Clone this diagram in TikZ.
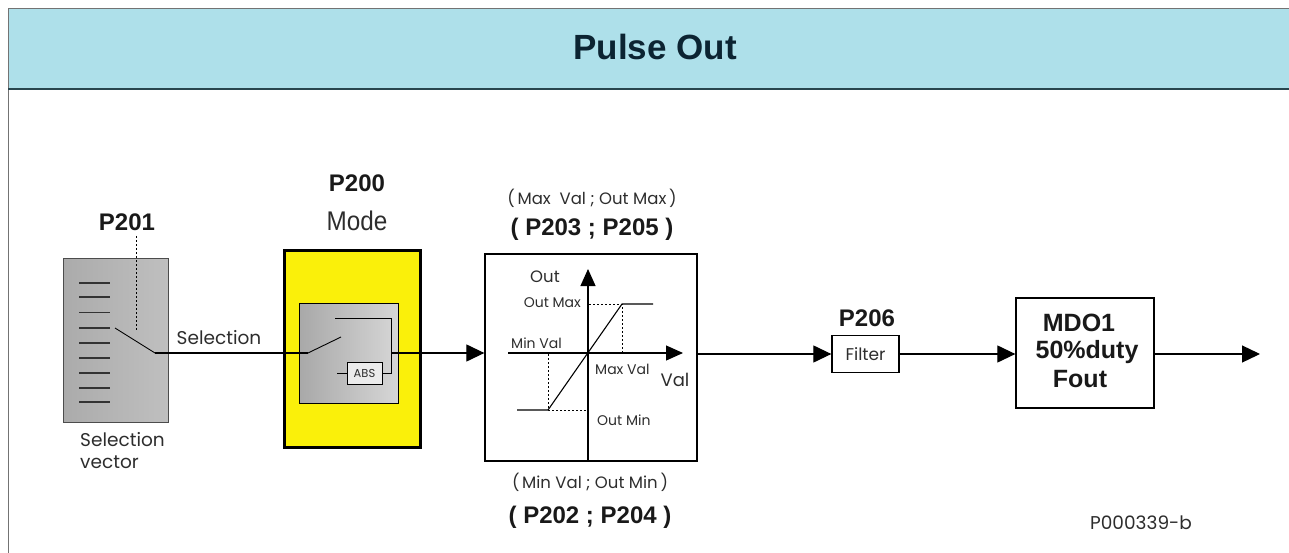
\documentclass[tikz,border=0pt]{standalone}
\usepackage{fontspec}
\setmainfont{Liberation Sans}
\newfontfamily\geo{Poppins}
\usetikzlibrary{arrows.meta}
\definecolor{hdrfill}{RGB}{174,224,234}
\definecolor{hdrline}{RGB}{40,70,78}
\definecolor{titlecol}{RGB}{12,36,50}
\definecolor{modeyellow}{RGB}{250,240,10}
\definecolor{txtgray}{RGB}{45,45,45}
\tikzset{
  sig/.style={line width=1.2pt, draw=black},
  arr/.style={sig, -{Triangle[length=18pt,width=17pt]}},
  axarr/.style={line width=1.1pt, -{Triangle[length=17pt,width=15pt]}},
  thin line/.style={line width=0.9pt},
  dotline/.style={line width=0.9pt, dash pattern=on 2pt off 2pt},
  boldlbl/.style={font=\bfseries\fontsize{24}{28}\selectfont, text=black!90, inner sep=0pt},
  geolbl/.style={font=\geo\fontsize{18.5}{22}\selectfont, text=txtgray, inner sep=0pt},
  smalllbl/.style={font=\geo\fontsize{14}{16}\selectfont, text=txtgray, inner sep=0pt},
  notelbl/.style={font=\geo\fontsize{16.5}{19}\selectfont, text=txtgray, inner sep=0pt},
  plainbox/.style={draw=black, line width=1.3pt, fill=white, inner sep=0pt},
}
\begin{document}
\begin{tikzpicture}[x=1pt,y=-1pt]
\useasboundingbox (0,0) rectangle (1289,553);
% header band and frame
\fill[hdrfill] (8,8) rectangle (1289,89);
\draw[line width=0.8pt, black!55] (1289,8) -- (8,8) -- (8,553);
\draw[line width=2.2pt, hdrline] (8,89) -- (1289,89);
\node[font=\bfseries\fontsize{35}{40}\selectfont, text=titlecol] (title) at (655,47) {Pulse Out};

% selection vector
\node[draw=black!70, line width=1pt, left color=black!33, right color=black!25, minimum width=105pt, minimum height=164pt, inner sep=0pt] (selvec) at (115.5,340) {};
\foreach \yy in {283,297,312.5,328,343,358,373,388,402}
  \draw[line width=1.1pt, black!80] (79,\yy) -- (110,\yy);
\coordinate (swtip) at (115,328);
\coordinate (swpivot) at (155,353);
\draw[thin line] (swtip) -- (swpivot);
\node[boldlbl] (p201) at (127,222) {P201};
\coordinate (p201end) at (136,330);
\draw[dotline, line width=0.8pt] (136,236) -- (p201end);
\node[geolbl, anchor=west] (selvec1) at (80,440) {Selection};
\node[geolbl, anchor=west] (selvec2) at (80,462) {vector};
\node[geolbl] (sellbl) at (219,338) {Selection};

% mode block
\node[boldlbl] (p200) at (357,183) {P200};
\node[font=\fontsize{27}{30}\selectfont, text=txtgray, inner sep=0pt, xscale=0.9] (modetxt) at (357,221) {Mode};
\node[draw=black, line width=3pt, fill=modeyellow, minimum width=136pt, minimum height=197pt, inner sep=0pt] (mode) at (352,348.5) {};
\node[draw=black, line width=1pt, left color=black!34, right color=black!16, minimum width=99pt, minimum height=100pt, inner sep=0pt] (modein) at (348.5,353) {};
\coordinate (minl) at (308,353);
\draw[sig] (swpivot) -- (minl);
\node[draw=black, thin line, font=\geo\fontsize{11.5}{13}\selectfont, text=txtgray, minimum width=35pt, minimum height=22pt, inner sep=0pt, fill=black!8] (abs) at (364.5,373) {ABS};
\draw[thin line] (minl) -- (341,337);
\draw[thin line] (335,318) -- (391,318) -- (391,373) -- (abs.east);
\draw[thin line] (337,373) -- (abs.west);
\coordinate (mout) at (391,353);

% transfer graph
\node[plainbox, minimum width=212pt, minimum height=207pt] (graph) at (591,357.5) {};
\draw[arr] (mout) -- (graph.west |- mout);
\coordinate (org) at (588,353);
\draw[axarr] (508,353) -- (683,353);
\draw[axarr] (graph.south -| org) -- (588,269);
\draw[line width=1.1pt] (517,410) -- (548,410) -- (622,304) -- (653,304);
\draw[dotline] (589,304) -- (622,304) -- (622,352);
\draw[dotline] (548,354) -- (548,410) -- (587,410);
\node[font=\geo\fontsize{16.5}{18}\selectfont, text=txtgray, inner sep=0pt] (outlbl) at (545,277) {Out};
\node[font=\geo\fontsize{18}{20}\selectfont, text=txtgray, inner sep=0pt] (vallbl) at (675,380) {Val};
\node[smalllbl, anchor=east] (outmax) at (581,303) {Out Max};
\node[smalllbl, anchor=west] (minval) at (511,343) {Min Val};
\node[smalllbl, anchor=west] (maxval) at (595,369) {Max Val};
\node[smalllbl, anchor=west] (outmin) at (597,420) {Out Min};
\node[notelbl] (topnote) at (592,198) {(\,Max\ \ Val\ ;\ Out Max\,)};
\node[boldlbl] (toppar) at (592,229) {(\ P203\ ;\ P205\ )};
\node[notelbl] (botnote) at (590,482) {(\,Min Val\ ;\ Out Min\,)};
\node[boldlbl] (botpar) at (590,517) {(\ P202\ ;\ P204\ )};

% filter
\node[plainbox, minimum width=67pt, minimum height=37pt, font=\geo\fontsize{17}{19}\selectfont, text=txtgray] (filter) at (865.5,354) {Filter};
\node[boldlbl] (p206) at (867,318) {P206};
\draw[arr] (graph.east |- filter) -- (filter.west);

% MDO1
\node[plainbox, minimum width=138pt, minimum height=110pt] (mdo) at (1085,353) {};
\node[boldlbl, font=\bfseries\fontsize{25}{28}\selectfont] (mdo1) at (1079,323) {MDO1};
\node[boldlbl, font=\bfseries\fontsize{25}{28}\selectfont] (duty) at (1087,352) {50\%duty};
\node[boldlbl, font=\bfseries\fontsize{25}{28}\selectfont] (fout) at (1080,379) {Fout};
\draw[arr] (filter.east) -- (mdo.west |- filter);
\coordinate (outend) at (1260,354);
\draw[arr] (mdo.east |- outend) -- (outend);

\node[font=\geo\fontsize{18.5}{20}\selectfont, text=txtgray, inner sep=0pt] (ref) at (1141,523) {P000339-b};
\end{tikzpicture}
\end{document}
